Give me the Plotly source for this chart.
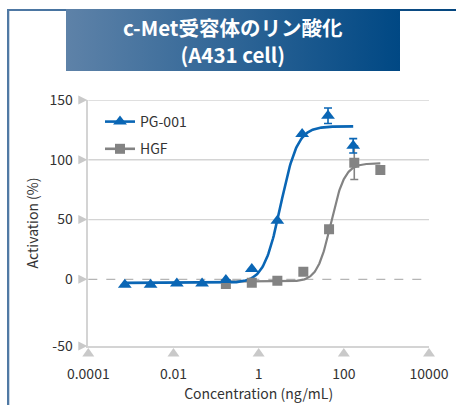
import numpy as np
import plotly.graph_objects as go

# ---- data ----
conc_pg = [0.00072, 0.0029, 0.012, 0.047, 0.17, 0.69, 2.75, 10.5, 42.5, 166]
act_pg = [-4.5, -4.5, -3.5, -3.5, -0.5, 8.6, 49, 121.5, 136.8, 111.7]
err_pg = [0, 0, 0, 0, 0, 0, 0, 0, 6.5, 6.0]

conc_hgf = [0.17, 0.69, 2.75, 11.2, 45, 176, 720]
act_hgf = [-4.0, -2.8, -1.2, 6.4, 41.8, 97.5, 91.4]
err_hgf = [0, 0, 0, 0, 0, 14, 0]

# 4-parameter logistic fits: bottom, top, log10 EC50, Hill slope
fit_pg = dict(bottom=-3.0, top=128.0, logec50=0.52, hill=2.2)
fit_hgf = dict(bottom=-2.0, top=97.0, logec50=1.70, hill=2.7)

x_ticks = [1e-4, 1e-2, 1, 100, 1e4]
x_ticktext = ["0.0001", "0.01", "1", "100", "10000"]
y_ticks = [0, 50, 100, 150]
y_min, y_max = -55.8, 150
x_log_range = [-4, 4]

title_lines = ["c-Met受容体のリン酸化", "(A431 cell)"]
x_title = "Concentration (ng/mL)"
y_title = "Activation (%)"

BLUE = "#0a66b5"
GRAY = "#838383"
GRID = "#d4d4d4"
TRI = "#c9c9c9"
TXT = "#333333"
FONT = "Noto Sans CJK JP"

W, H = 456, 405
px_l, px_r, px_t, px_b = 88.3, 429, 100, 346
x_dom = [px_l / W, px_r / W]
y_dom = [1 - px_b / H, 1 - px_t / H]


def logistic(x, bottom, top, logec50, hill):
    return bottom + (top - bottom) / (1 + 10 ** ((logec50 - np.log10(x)) * hill))


def x_paper(v):
    f = (np.log10(v) - x_log_range[0]) / (x_log_range[1] - x_log_range[0])
    return x_dom[0] + f * (x_dom[1] - x_dom[0])


def y_paper(v):
    f = (v - y_min) / (y_max - y_min)
    return y_dom[0] + f * (y_dom[1] - y_dom[0])


fig = go.Figure()

# fitted curves
xc_pg = np.logspace(np.log10(conc_pg[0]), np.log10(conc_pg[-1]), 300)
xc_hgf = np.logspace(np.log10(conc_hgf[0]), np.log10(conc_hgf[-1]), 300)
fig.add_trace(go.Scatter(x=xc_hgf, y=logistic(xc_hgf, **fit_hgf), mode="lines",
                         line=dict(color=GRAY, width=2.2), showlegend=False, hoverinfo="skip"))
fig.add_trace(go.Scatter(x=xc_pg, y=logistic(xc_pg, **fit_pg), mode="lines",
                         line=dict(color=BLUE, width=2.6), showlegend=False, hoverinfo="skip"))

# measured points
fig.add_trace(go.Scatter(x=conc_hgf, y=act_hgf, mode="markers", showlegend=False,
                         marker=dict(symbol="square", size=10, color=GRAY),
                         error_y=dict(type="data", array=err_hgf, color=GRAY, thickness=1.6, width=4)))
fig.add_trace(go.Scatter(x=conc_pg, y=act_pg, mode="markers", showlegend=False,
                         marker=dict(symbol="triangle-up", size=12, color=BLUE),
                         error_y=dict(type="data", array=err_pg, color=BLUE, thickness=1.6, width=4)))

# legend entries
fig.add_trace(go.Scatter(x=[None], y=[None], mode="lines+markers", name="PG-001", legendgroup="a",
                         line=dict(color=BLUE, width=2.6),
                         marker=dict(symbol="triangle-up", size=12, color=BLUE)))
fig.add_trace(go.Scatter(x=[None], y=[None], mode="lines+markers", name="HGF", legendgroup="b",
                         line=dict(color=GRAY, width=2.6),
                         marker=dict(symbol="square", size=10, color=GRAY)))

shapes = []
# grid lines
for v in [50, 100, 150]:
    shapes.append(dict(type="line", xref="x domain", yref="y", x0=0, x1=1, y0=v, y1=v,
                       line=dict(color=GRID, width=1.3), layer="below"))
shapes.append(dict(type="line", xref="x domain", yref="y", x0=0, x1=1, y0=0, y1=0,
                   line=dict(color="#b5b5b5", width=1.3, dash="dash"), layer="below"))

# triangular tick marks beside the axes
for v in [y_min] + y_ticks:
    shapes.append(dict(type="path", xref="paper", xsizemode="pixel", xanchor=x_dom[0],
                       yref="paper", ysizemode="pixel", yanchor=y_paper(v),
                       path="M-10,4.5 L-10,-4.5 L-1,0 Z", fillcolor=TRI, line=dict(width=0)))
for v in x_ticks:
    shapes.append(dict(type="path", xref="paper", xsizemode="pixel", xanchor=x_paper(v),
                       yref="paper", ysizemode="pixel", yanchor=y_dom[0],
                       path="M-6,-10.5 L6,-10.5 L0,-2 Z", fillcolor=TRI, line=dict(width=0)))


# header: frame lines and gradient title box (pixel coordinates on an overlay axis pair)
def box(x0, x1, y0, y1, colors):
    return go.Scatter(x=[x0, x1, x1, x0, x0], y=[y0, y0, y1, y1, y0], mode="lines",
                      line=dict(width=0), fill="toself",
                      fillgradient=dict(type="horizontal", colorscale=[[0, colors[0]], [1, colors[1]]]),
                      xaxis="x2", yaxis="y2", showlegend=False, hoverinfo="skip")

fig.add_trace(box(7, W, 9, 11, ("#5079a4", "#04467f")))
fig.add_trace(box(7, 9.3, 9, H, ("#5079a4", "#5079a4")))
fig.add_trace(box(66, 400, 9, 71, ("#5e82a8", "#004884")))

fig.add_annotation(x=233 / W, y=1 - 41 / H, xref="paper", yref="paper",
                   text="<br>".join("<b>" + t + "</b>" for t in title_lines), showarrow=False,
                   xanchor="center", yanchor="middle", align="center",
                   font=dict(family=FONT, size=20.5, color="white"))

fig.update_layout(
    width=W, height=H, margin=dict(l=0, r=0, t=0, b=0),
    paper_bgcolor="white", plot_bgcolor="rgba(0,0,0,0)",
    font=dict(family=FONT, size=14, color=TXT),
    shapes=shapes,
    legend=dict(x=100 / W, y=1 - 106 / H, xanchor="left", yanchor="top",
                bgcolor="rgba(0,0,0,0)", font=dict(size=14, color=TXT), tracegroupgap=6),
    xaxis=dict(type="log", range=x_log_range, domain=x_dom,
               tickvals=x_ticks, ticktext=x_ticktext, ticks="", showgrid=False,
               showline=True, linecolor=GRID, linewidth=1.5, zeroline=False,
               ticklabelstandoff=14, automargin=False,
               title=dict(text=x_title, standoff=7, font=dict(size=14))),
    yaxis=dict(range=[y_min, y_max], domain=y_dom,
               tickvals=[y_min] + y_ticks, ticktext=["-50", "0", "50", "100", "150"],
               ticks="", showgrid=False, showline=True, linecolor=GRID, linewidth=1.5,
               zeroline=False, ticklabelstandoff=11, automargin=False,
               title=dict(text=y_title, standoff=8, font=dict(size=14))),
    xaxis2=dict(range=[0, W], domain=[0, 1], anchor="y2", visible=False, fixedrange=True),
    yaxis2=dict(range=[H, 0], domain=[0, 1], anchor="x2", visible=False, fixedrange=True),
)

fig.write_html("out.html")
